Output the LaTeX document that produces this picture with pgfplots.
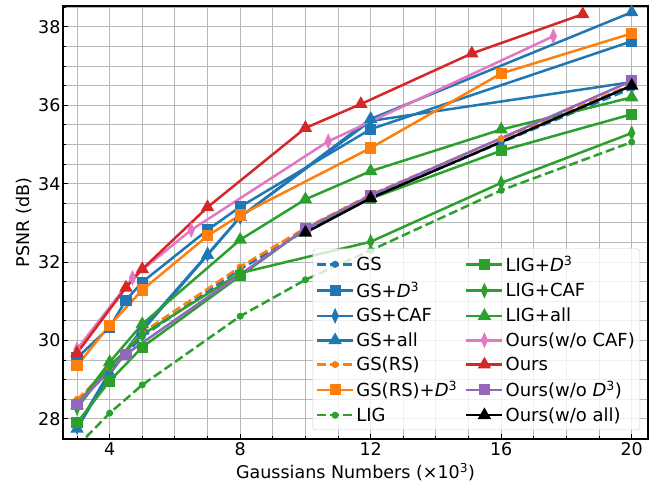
\documentclass[border=0pt]{standalone}
\usepackage{fontspec}
\setmainfont{DejaVu Sans}
\usepackage{pgfplots}
\pgfplotsset{compat=1.18}

\definecolor{tabblue}{HTML}{1F77B4}
\definecolor{taborange}{HTML}{FF7F0E}
\definecolor{tabgreen}{HTML}{2CA02C}
\definecolor{tabred}{HTML}{D62728}
\definecolor{tabpink}{HTML}{E377C2}
\definecolor{tabpurple}{HTML}{9467BD}
\definecolor{gridgray}{HTML}{B8B8B8}

\newcommand{\Dc}{\textit{D}\textsuperscript{3}}

\pgfplotsset{
  ln/.style={line width=2.5bp, mark options={solid}},
  dsh/.style={line width=2.5bp, dash pattern=on 9bp off 4bp, mark=*, mark size=2.2bp, mark options={solid}},
  msq/.style={mark=square*, mark size=4.3bp},
  mdi/.style={mark=diamond*, mark size=5bp, mark options={solid, xscale=0.6}},
  mtr/.style={mark=triangle*, mark size=5.3bp},
  sGS/.style={tabblue, dsh},
  sGSD/.style={tabblue, ln, msq},
  sGSC/.style={tabblue, ln, mdi},
  sGSA/.style={tabblue, ln, mtr},
  sRS/.style={taborange, dsh},
  sRSD/.style={taborange, ln, msq},
  sLIG/.style={tabgreen, dsh},
  sLIGD/.style={tabgreen, ln, msq},
  sLIGC/.style={tabgreen, ln, mdi},
  sLIGA/.style={tabgreen, ln, mtr},
  sOC/.style={tabpink, ln, mdi},
  sO/.style={tabred, ln, mtr},
  sOD/.style={tabpurple, ln, msq},
  sOA/.style={black, ln, mtr},
}

\begin{document}
\begin{tikzpicture}
\begin{axis}[
    scale only axis, width=585bp, height=433bp,
    xmin=2.57, xmax=20.5, ymin=27.49, ymax=38.53,
    xtick={4,8,12,16,20}, ytick={28,30,32,34,36,38},
    minor xtick={3,5,6,7,9,10,11,13,14,15,17,18,19},
    minor ytick={28.5,29,29.5,30.5,31,31.5,32.5,33,33.5,34.5,35,35.5,36.5,37,37.5,38.5},
    grid=both,
    major grid style={gridgray, line width=1bp},
    minor grid style={gridgray, line width=1bp},
    tick align=inside, xtick pos=bottom, ytick pos=left,
    major tick length=5bp, minor tick length=3bp,
    tick style={black, line width=1bp},
    axis line style={line width=1.2bp},
    /pgf/number format/assume math mode=true,
    ticklabel style={font=\fontsize{17.5bp}{20bp}\selectfont},
    yticklabel style={xshift=1bp},
    label style={font=\fontsize{17.5bp}{20bp}\selectfont},
    xlabel style={yshift=-1bp},
    xlabel={Gaussians Numbers (×10\textsuperscript{3})},
    ylabel={PSNR (dB)},
    legend cell align=left,
    legend style={at={(1,0)}, anchor=south east, xshift=-8bp, yshift=9bp,
      font=\fontsize{18bp}{22bp}\selectfont,
      fill=white, fill opacity=0.8, text opacity=1, draw=black!20,
      rounded corners=3bp, legend columns=2, row sep=5.2bp,
      inner xsep=3bp, inner ysep=5bp,
      /tikz/every even column/.append style={column sep=6bp}},
    legend image code/.code={\draw[fill opacity=1, mark repeat=2, mark phase=2]
      plot coordinates {(0bp,0bp) (18bp,0bp) (36bp,0bp)};},
]
% GS
\addplot[sGS, forget plot] coordinates {(3,28.45) (4,29.25) (5,30.1) (8,31.82) (10,32.8) (12,33.65) (16,35.05) (20,36.43)};
% GS+D3
\addplot[sGSD, forget plot] coordinates {(3,29.56) (4,30.34) (4.5,31.03) (5,31.49) (7,32.82) (8,33.41) (12,35.39) (20,37.63)};
% GS+CAF
\addplot[sGSC, forget plot] coordinates {(3,27.8) (4,29.2) (5,30.3) (7,32.2) (8,33.15) (12,35.6) (20,36.59)};
% GS+all
\addplot[sGSA, forget plot] coordinates {(3,27.75) (4,29.15) (5,30.25) (7,32.18) (8,33.15) (12,35.65) (20,38.37)};
% GS(RS)
\addplot[sRS, forget plot] coordinates {(3,28.5) (4,29.3) (5,30.2) (8,31.88) (10,32.87) (12,33.72) (16,35.15) (20,36.52)};
% GS(RS)+D3
\addplot[sRSD, forget plot] coordinates {(3,29.36) (4,30.39) (5,31.29) (7,32.67) (8,33.2) (12,34.91) (16,36.81) (20,37.83)};
% LIG
\addplot[sLIG, forget plot] coordinates {(3,27.3) (4,28.15) (5,28.87) (8,30.62) (10,31.55) (12,32.3) (16,33.83) (20,35.06)};
% LIG+D3
\addplot[sLIGD, forget plot] coordinates {(3,27.9) (4,28.97) (5,29.83) (8,31.65) (10,32.85) (12,33.62) (16,34.84) (20,35.77)};
% LIG+CAF
\addplot[sLIGC, forget plot] coordinates {(3,28.28) (4,29.35) (5,30.15) (8,31.72) (12,32.52) (16,34.02) (20,35.29)};
% LIG+all
\addplot[sLIGA, forget plot] coordinates {(3,28.35) (4,29.45) (5,30.42) (8,32.57) (10,33.6) (12,34.32) (16,35.38) (20,36.2)};
% Ours(w/o CAF)
\addplot[sOC, forget plot] coordinates {(3,29.78) (4.7,31.6) (6.5,32.82) (10.7,35.08) (17.6,37.76)};
% Ours
\addplot[sO, forget plot] coordinates {(3,29.68) (4.5,31.35) (5,31.82) (7,33.4) (10,35.42) (11.7,36.03) (15.1,37.32) (18.5,38.32)};
% Ours(w/o D3)
\addplot[sOD, forget plot] coordinates {(3,28.38) (4.5,29.65) (10,32.85) (12,33.7) (20,36.62)};
% Ours(w/o all)
\addplot[sOA, forget plot] coordinates {(10,32.75) (12,33.63) (20,36.5)};

\addlegendimage{sGS}\addlegendentry{GS}
\addlegendimage{sLIGD}\addlegendentry{LIG+\Dc}
\addlegendimage{sGSD}\addlegendentry{GS+\Dc}
\addlegendimage{sLIGC}\addlegendentry{LIG+CAF}
\addlegendimage{sGSC}\addlegendentry{GS+CAF}
\addlegendimage{sLIGA}\addlegendentry{LIG+all}
\addlegendimage{sGSA}\addlegendentry{GS+all}
\addlegendimage{sOC}\addlegendentry{Ours(w/o CAF)}
\addlegendimage{sRS}\addlegendentry{GS(RS)}
\addlegendimage{sO}\addlegendentry{Ours}
\addlegendimage{sRSD}\addlegendentry{GS(RS)+\Dc}
\addlegendimage{sOD}\addlegendentry{Ours(w/o \Dc)}
\addlegendimage{sLIG}\addlegendentry{LIG}
\addlegendimage{sOA}\addlegendentry{Ours(w/o all)}
\end{axis}
\pgfresetboundingbox
\path ([shift={(-63bp,-45bp)}]current axis.south west) rectangle ([shift={(6bp,6bp)}]current axis.north east);
\end{tikzpicture}
\end{document}
